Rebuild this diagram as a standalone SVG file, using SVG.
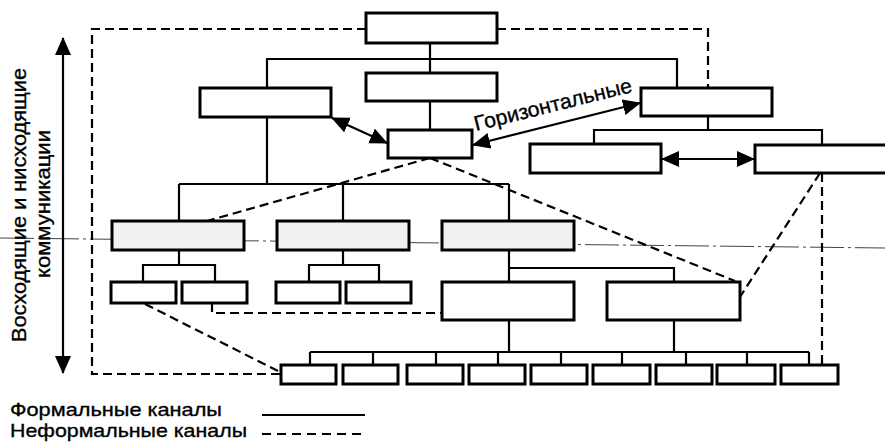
<svg xmlns="http://www.w3.org/2000/svg" width="885" height="444" viewBox="0 0 885 444">
  <style>
    .box { fill: #ffffff; stroke: #000; stroke-width: 3; }
    .shaded { fill: #f1f1f1; }
    .formal { fill: none; stroke: #000; stroke-width: 2.2; }
    .informal { fill: none; stroke: #000; stroke-width: 2.2; stroke-dasharray: 9 5; }
    .axis { fill: none; stroke: #444; stroke-width: 1; stroke-dasharray: 34 4 3 4; }
    .arrow { fill: none; stroke: #000; stroke-width: 2.2; marker-start: url(#head); marker-end: url(#head); }
    .label { font-family: "Liberation Sans", Arial, sans-serif; font-size: 21px; fill: #000; stroke: #000; stroke-width: 0.35; }
    .legend { font-size: 19px; }
  </style>
  <defs>
    <marker id="head" markerUnits="userSpaceOnUse" markerWidth="20" markerHeight="18" refX="17" refY="8" orient="auto-start-reverse">
      <path d="M0,0 L18,8 L0,16 Z" fill="#000"/>
    </marker>
  </defs>

  <rect width="885" height="444" fill="#fff"/>

  <!-- reference axis line -->
  <line class="axis" x1="0" y1="238" x2="885" y2="248"/>

  <g id="connectors">
    <!-- formal channels -->
    <path class="formal" d="M430,43 V73 M430,101 V130"/>
    <path class="formal" d="M267,88 V59 H677 V88"/>
    <path class="formal" d="M267,117 V184 M179,184 H509 M179,184 V221 M343,184 V221 M509,184 V221"/>
    <path class="formal" d="M708,116 V130 M594,144 V130 H822 V145"/>
    <path class="formal" d="M179,250 V265 M143,282 V265 H215 V282"/>
    <path class="formal" d="M343,250 V265 M309,282 V265 H379 V282"/>
    <path class="formal" d="M509,250 V282 M509,268 H674 V282"/>
    <path class="formal" d="M509,320 V352 M674,320 V352 M310,352 H809"/>
    <path class="formal" d="M310,352 V365 M373,352 V365 M436,352 V365 M498,352 V365 M561,352 V365 M622,352 V365 M686,352 V365 M747,352 V365 M809,352 V365"/>

    <!-- informal channels -->
    <path class="informal" d="M366,29 H92 V374 H280"/>
    <path class="informal" d="M497,29 H708 V88"/>
    <path class="informal" d="M430,158 L207,221"/>
    <path class="informal" d="M430,158 L735,281"/>
    <path class="informal" d="M820,173 L740,297"/>
    <path class="informal" d="M822,173 V365"/>
    <path class="informal" d="M145,304 L280,372"/>
    <path class="informal" d="M212,303 V313 H442"/>

    <!-- two-way links -->
    <line class="arrow" x1="332" y1="118" x2="387" y2="143"/>
    <line class="arrow" x1="473" y1="145" x2="640" y2="103"/>
    <line class="arrow" x1="662" y1="159" x2="754" y2="159"/>
    <line class="arrow" x1="63" y1="38" x2="63" y2="373"/>
  </g>

  <!-- top levels -->
  <g id="n-top"><rect class="box" x="366" y="13" width="131" height="30"/></g>
  <g id="n-second"><rect class="box" x="366" y="73" width="131" height="28"/></g>
  <g id="n-third"><rect class="box" x="388" y="130" width="84" height="28"/></g>
  <g id="n-left"><rect class="box" x="200" y="88" width="131" height="29"/></g>
  <g id="n-right"><rect class="box" x="641" y="88" width="131" height="28"/></g>
  <g id="n-right-a"><rect class="box" x="530" y="144" width="131" height="29"/></g>
  <g id="n-right-b"><rect class="box" x="755" y="145" width="136" height="28"/></g>

  <!-- middle level -->
  <g id="n-a"><rect class="box shaded" x="112" y="221" width="132" height="29"/></g>
  <g id="n-b"><rect class="box shaded" x="277" y="221" width="132" height="29"/></g>
  <g id="n-c"><rect class="box shaded" x="442" y="221" width="132" height="29"/></g>
  <g id="n-a1"><rect class="box" x="111" y="282" width="65" height="21"/></g>
  <g id="n-a2"><rect class="box" x="182" y="282" width="65" height="21"/></g>
  <g id="n-b1"><rect class="box" x="276" y="282" width="64" height="21"/></g>
  <g id="n-b2"><rect class="box" x="346" y="282" width="65" height="21"/></g>
  <g id="n-c1"><rect class="box" x="442" y="282" width="132" height="38"/></g>
  <g id="n-c2"><rect class="box" x="607" y="282" width="133" height="38"/></g>

  <!-- bottom row -->
  <g id="n-w1"><rect class="box" x="281" y="365" width="55" height="19"/></g>
  <g id="n-w2"><rect class="box" x="343" y="365" width="55" height="19"/></g>
  <g id="n-w3"><rect class="box" x="407" y="365" width="56" height="19"/></g>
  <g id="n-w4"><rect class="box" x="469" y="365" width="56" height="19"/></g>
  <g id="n-w5"><rect class="box" x="531" y="365" width="56" height="19"/></g>
  <g id="n-w6"><rect class="box" x="593" y="365" width="57" height="19"/></g>
  <g id="n-w7"><rect class="box" x="656" y="365" width="56" height="19"/></g>
  <g id="n-w8"><rect class="box" x="717" y="365" width="58" height="19"/></g>
  <g id="n-w9"><rect class="box" x="781" y="365" width="57" height="19"/></g>

  <!-- labels -->
  <text class="label" x="476" y="131" transform="rotate(-14 476 131)" textLength="162" lengthAdjust="spacingAndGlyphs">Горизонтальные</text>
  <g id="side-label">
    <text class="label" text-anchor="middle" transform="translate(26,205) rotate(-90)" textLength="274" lengthAdjust="spacingAndGlyphs">Восходящие и нисходящие</text>
    <text class="label" text-anchor="middle" transform="translate(50,204) rotate(-90)" textLength="148" lengthAdjust="spacingAndGlyphs">коммуникации</text>
  </g>

  <g id="legend">
    <text class="label legend" x="10" y="416" textLength="212" lengthAdjust="spacingAndGlyphs">Формальные каналы</text>
    <text class="label legend" x="10" y="437" textLength="237" lengthAdjust="spacingAndGlyphs">Неформальные каналы</text>
    <line class="formal" x1="262" y1="415" x2="365" y2="415"/>
    <line class="formal" x1="262" y1="434" x2="365" y2="434" stroke-dasharray="9 6"/>
  </g>
</svg>
